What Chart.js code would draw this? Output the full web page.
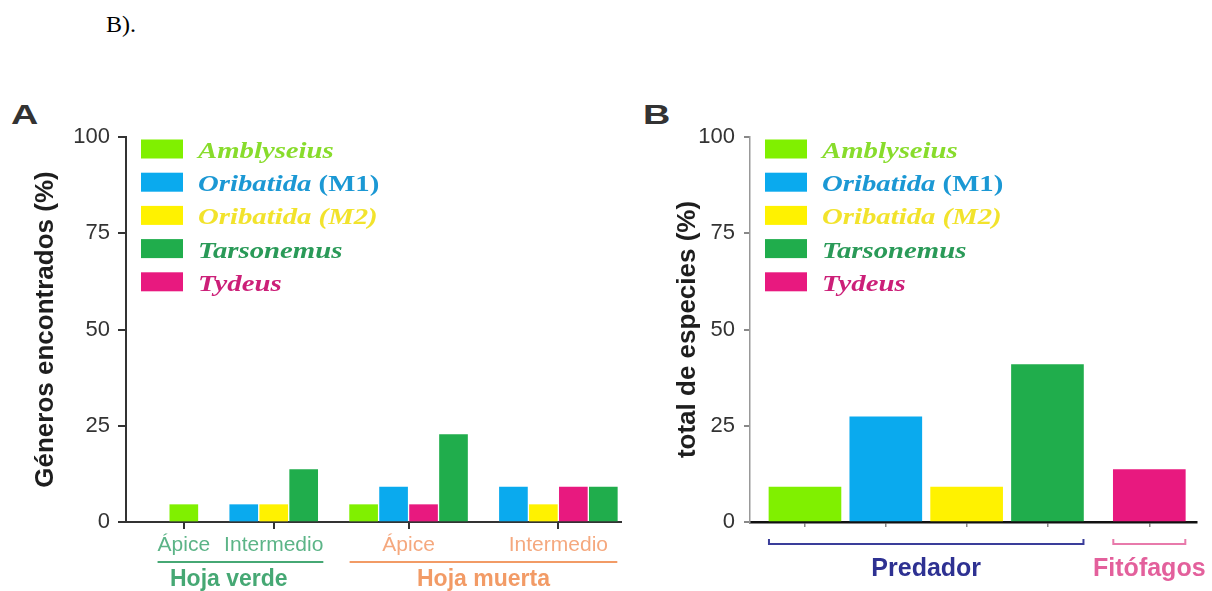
<!DOCTYPE html>
<html>
<head>
<meta charset="utf-8">
<script src="https://cdn.jsdelivr.net/npm/chart.js@4/dist/chart.umd.min.js"></script>
<style>
  body { margin: 0; background: #fff; width: 1212px; height: 591px; overflow: hidden; position: relative; }
  #note { position: absolute; left: 106px; top: 12px; font: 24px/24px "Liberation Serif", "Times New Roman", serif; color: #000; }
  .panel { position: absolute; top: 101px; font: bold 28px/28px "Liberation Sans", Arial, sans-serif; color: #333; transform: scaleX(1.35); transform-origin: left top; }
  #chartA { position: absolute; left: 0; top: 0; }
  #chartB { position: absolute; left: 630px; top: 0; }
</style>
</head>
<body>
<div id="note">B).</div>
<div class="panel" style="left:11px">A</div>
<div class="panel" style="left:643px">B</div>
<canvas id="chartA" width="630" height="591"></canvas>
<canvas id="chartB" width="582" height="591"></canvas>
<script>
// species, shared by both panels (legend order)
const seriesNames = ['Amblyseius', 'Oribatida (M1)', 'Oribatida (M2)', 'Tarsonemus', 'Tydeus'];
const yTicks = [0, 25, 50, 75, 100];

// panel A: % of genera per leaf part
const hojaSites = ['Ápice', 'Intermedio', 'Ápice', 'Intermedio'];
const hojaTypes = ['Hoja verde', 'Hoja verde', 'Hoja muerta', 'Hoja muerta'];
const amblyseiusA = [4.5, null, 4.5, null];
const oribatidaM1A = [null, 4.5, 9.1, 9.1];
const oribatidaM2A = [null, 4.5, null, 4.5];
const tarsonemusA = [null, 13.6, 22.7, 9.1];
const tydeusA = [null, null, 4.5, 9.1];
// order of the bars inside each leaf-part group
const barOrderA = ['Amblyseius', 'Oribatida (M1)', 'Oribatida (M2)', 'Tydeus', 'Tarsonemus'];

// panel B: % of total species
const totalB = [9.1, 27.3, 9.1, 40.9, 13.6];
const feedingB = ['Predador', 'Predador', 'Predador', 'Predador', 'Fitófagos'];

// styles
const FONT = '"Liberation Sans", Arial, sans-serif';
const SERIF = '"Liberation Serif", "Times New Roman", serif';
const barColors = ['#80f000', '#0aaaee', '#fff200', '#20ad4c', '#e8197f'];
const legendTextColors = ['#88dc2c', '#1b98d4', '#f2e32c', '#2a9a58', '#cc1f78'];
const legendUpright = [false, true, false, false, false];
const hojaColors = { 'Hoja verde': '#46a874', 'Hoja muerta': '#f29b66' };
const siteColors = { 'Hoja verde': '#5cb487', 'Hoja muerta': '#f5a87e' };
const feedingColors = { 'Predador': '#2e3192', 'Fitófagos': '#e3609c' };
const bracketColors = { 'Predador': '#3a3d9a', 'Fitófagos': '#e87aab' };

Chart.defaults.font.family = FONT;

// --- build bar slots for panel A (one empty slot between groups)
const valuesA = [amblyseiusA, oribatidaM1A, oribatidaM2A, tarsonemusA, tydeusA];
const pointsA = seriesNames.map(() => []);
const siteCenters = [];
let slot = 0;
hojaSites.forEach((site, g) => {
  const first = slot;
  barOrderA.forEach(name => {
    const s = seriesNames.indexOf(name);
    const v = valuesA[s][g];
    if (v !== null) {
      pointsA[s].push({ x: slot, y: v, g: g });
      slot++;
    }
  });
  siteCenters.push((first + slot - 1) / 2);
  slot++;
});

// --- bar positions for panel B (small gap between feeding groups)
const pointsB = seriesNames.map(() => []);
const tickPosB = [];
let posB = 0;
seriesNames.forEach((name, i) => {
  if (i > 0 && feedingB[i] !== feedingB[i - 1]) posB += 0.26;
  pointsB[i].push({ x: posB, y: totalB[i], g: i });
  tickPosB.push(posB);
  posB += 1;
});

// legend drawn inside the plot area
const speciesLegend = {
  id: 'speciesLegend',
  afterDraw(chart) {
    const ctx = chart.ctx;
    const area = chart.chartArea;
    ctx.save();
    chart.data.datasets.forEach((ds, i) => {
      const cy = area.top + 12 + i * 33.2;
      const bx = area.left + 15;
      ctx.fillStyle = ds.backgroundColor;
      ctx.fillRect(bx, cy - 9.5, 42, 19);

      const name = ds.label;
      let italicPart = name, uprightPart = '';
      if (legendUpright[i] && name.indexOf(' (') > 0) {
        italicPart = name.slice(0, name.indexOf(' ('));
        uprightPart = name.slice(name.indexOf(' ('));
      }
      ctx.save();
      ctx.translate(bx + 57, cy + 9);
      ctx.scale(1.25, 1);
      ctx.fillStyle = legendTextColors[i];
      ctx.textBaseline = 'alphabetic';
      ctx.textAlign = 'left';
      ctx.font = 'italic bold 23px ' + SERIF;
      ctx.fillText(italicPart, 0, 0);
      const w = ctx.measureText(italicPart).width;
      if (uprightPart) {
        ctx.font = 'bold 23px ' + SERIF;
        ctx.fillText(uprightPart, w, 0);
      }
      ctx.restore();
    });
    ctx.restore();
  }
};

// "Hoja verde" / "Hoja muerta" underlines and labels
const hojaGroups = {
  id: 'hojaGroups',
  afterDraw(chart) {
    const ctx = chart.ctx;
    const xs = chart.scales.x;
    const types = [...new Set(hojaTypes)];
    ctx.save();
    types.forEach(t => {
      let left = Infinity, right = -Infinity, sum = 0, n = 0;
      ctx.font = '21px ' + FONT;
      hojaTypes.forEach((h, i) => {
        if (h !== t) return;
        const px = xs.getPixelForValue(siteCenters[i]);
        const w = ctx.measureText(hojaSites[i]).width;
        left = Math.min(left, px - w / 2);
        right = Math.max(right, px + w / 2);
        sum += px; n++;
      });
      chart.data.datasets.forEach((ds, d) => {
        chart.getDatasetMeta(d).data.forEach((bar, j) => {
          if (hojaTypes[ds.data[j].g] !== t) return;
          left = Math.min(left, bar.x - bar.width / 2);
          right = Math.max(right, bar.x + bar.width / 2);
        });
      });
      ctx.strokeStyle = hojaColors[t];
      ctx.lineWidth = 2;
      ctx.beginPath();
      ctx.moveTo(left, 562);
      ctx.lineTo(right, 562);
      ctx.stroke();
      ctx.fillStyle = hojaColors[t];
      ctx.font = 'bold 23px ' + FONT;
      ctx.textAlign = 'center';
      ctx.textBaseline = 'middle';
      ctx.fillText(t, sum / n, 580);
    });
    ctx.restore();
  }
};

// Predador / Fitófagos brackets
const feedingGroups = {
  id: 'feedingGroups',
  afterDraw(chart) {
    const ctx = chart.ctx;
    const groups = [...new Set(feedingB)];
    ctx.save();
    groups.forEach(f => {
      let left = Infinity, right = -Infinity;
      chart.data.datasets.forEach((ds, d) => {
        chart.getDatasetMeta(d).data.forEach((bar, j) => {
          if (feedingB[ds.data[j].g] !== f) return;
          left = Math.min(left, bar.x - bar.width / 2);
          right = Math.max(right, bar.x + bar.width / 2);
        });
      });
      ctx.strokeStyle = bracketColors[f];
      ctx.lineWidth = 2;
      ctx.beginPath();
      ctx.moveTo(left, 539);
      ctx.lineTo(left, 544);
      ctx.lineTo(right, 544);
      ctx.lineTo(right, 539);
      ctx.stroke();
      ctx.fillStyle = feedingColors[f];
      ctx.font = 'bold 25px ' + FONT;
      ctx.textAlign = 'center';
      ctx.textBaseline = 'middle';
      ctx.fillText(f, (left + right) / 2, 569);
    });
    ctx.restore();
  }
};

function yAxis(title, width, tickColor, axisColor, axisWidth, tickLen, pad) {
  return {
    min: 0,
    max: 100,
    afterBuildTicks: s => { s.ticks = yTicks.map(v => ({ value: v })); },
    ticks: { font: { size: 22 }, color: '#333', padding: pad },
    grid: { drawOnChartArea: false, offset: false, tickLength: tickLen, color: tickColor, lineWidth: 2 },
    border: { color: axisColor, width: axisWidth },
    title: { display: true, text: title, color: '#1e1e1e', font: { size: 26, weight: 'bold' }, padding: { top: 4, bottom: 4 } },
    afterFit: s => { s.width = width; }
  };
}

function makeDatasets(points, thickness) {
  return seriesNames.map((name, i) => ({
    label: name,
    data: points[i],
    backgroundColor: barColors[i],
    grouped: false,
    barThickness: thickness
  }));
}

new Chart(document.getElementById('chartA'), {
  type: 'bar',
  data: { datasets: makeDatasets(pointsA, 28) },
  options: {
    responsive: false,
    animation: false,
    layout: { padding: { left: 26, top: 137, right: 9, bottom: 0 } },
    plugins: { legend: { display: false }, tooltip: { enabled: false } },
    scales: {
      x: {
        type: 'linear',
        min: -1.93,
        max: 14.59,
        offset: false,
        afterBuildTicks: s => { s.ticks = siteCenters.map(v => ({ value: v })); },
        ticks: {
          callback: (v, i) => hojaSites[i],
          autoSkip: false,
          maxRotation: 0,
          font: { size: 21 },
          color: c => siteColors[hojaTypes[c.index]],
          padding: 4
        },
        grid: { drawOnChartArea: false, offset: false, tickLength: 7, color: '#333', lineWidth: 2 },
        border: { color: '#333', width: 2 },
        afterFit: s => { s.height = 69; }
      },
      y: yAxis('Géneros encontrados (%)', 100, '#333', '#333', 2, 8, 8)
    }
  },
  plugins: [speciesLegend, hojaGroups]
});

new Chart(document.getElementById('chartB'), {
  type: 'bar',
  data: { datasets: makeDatasets(pointsB, 72) },
  options: {
    responsive: false,
    animation: false,
    layout: { padding: { left: 38, top: 137, right: 15, bottom: 0 } },
    plugins: { legend: { display: false }, tooltip: { enabled: false } },
    scales: {
      x: {
        type: 'linear',
        min: -0.68,
        max: 4.85,
        offset: false,
        afterBuildTicks: s => { s.ticks = tickPosB.map(v => ({ value: v })); },
        ticks: { display: false },
        grid: { drawOnChartArea: false, offset: false, tickLength: 5, color: '#888', lineWidth: 1.5 },
        border: { color: '#111', width: 2.5 },
        afterFit: s => { s.height = 69; }
      },
      y: yAxis('total de especies (%)', 82, '#888', '#999', 1.5, 6, 9)
    }
  },
  plugins: [speciesLegend, feedingGroups]
});
</script>
</body>
</html>
